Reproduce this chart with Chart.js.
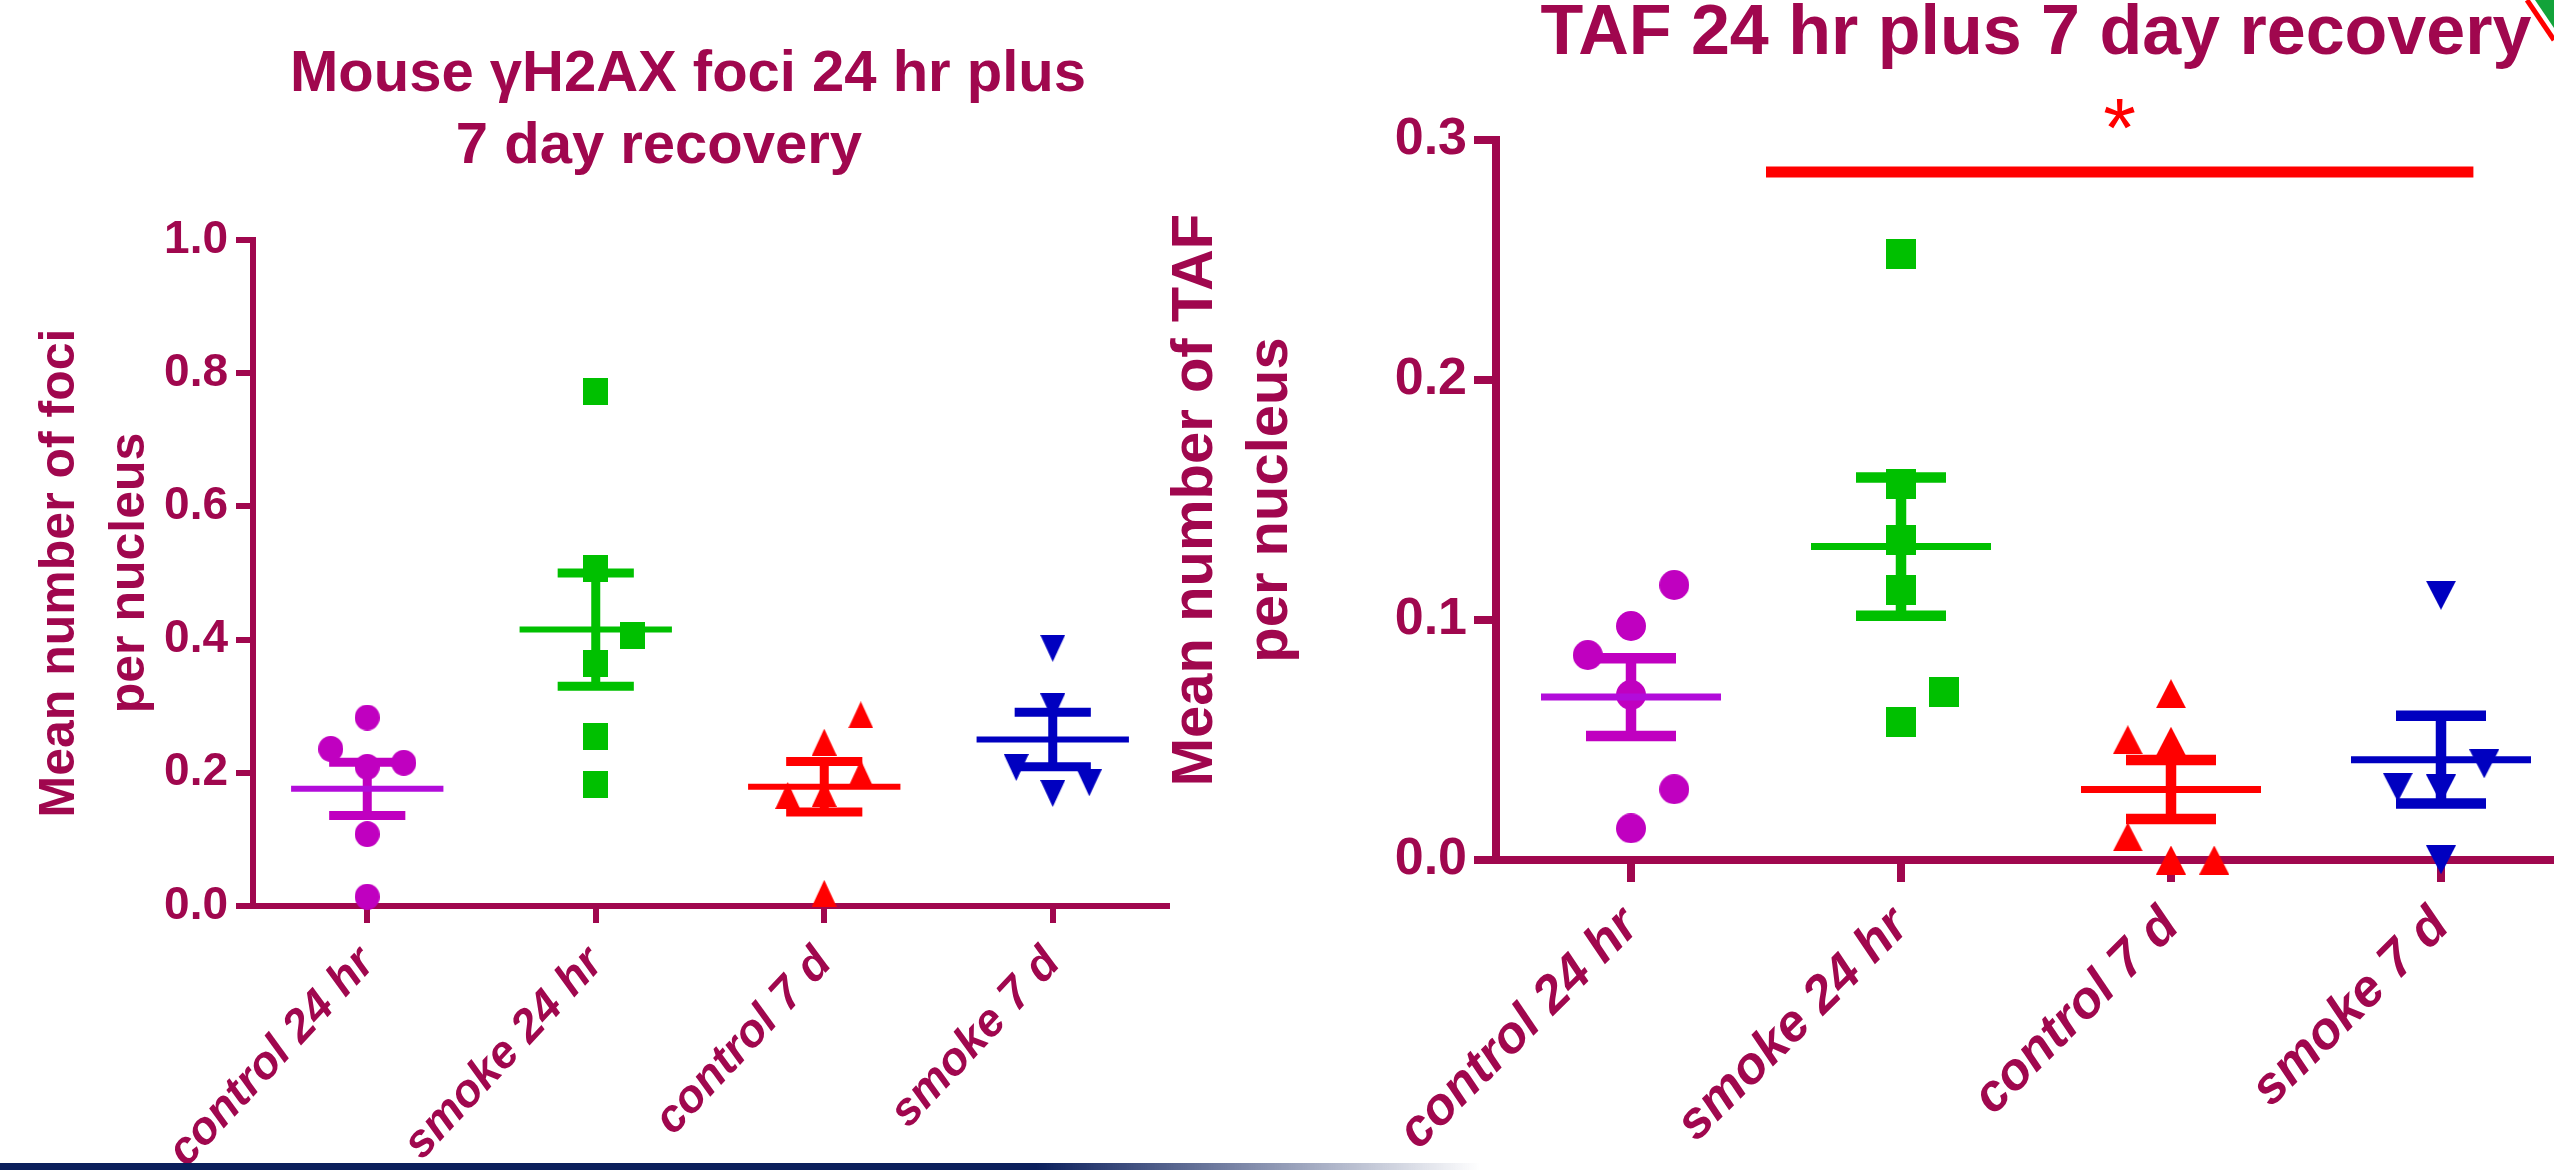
<!DOCTYPE html>
<html>
<head>
<meta charset="utf-8">
<script src="https://cdn.jsdelivr.net/npm/chart.js@4.4.1/dist/chart.umd.min.js"></script>
<style>
html,body{margin:0;padding:0;width:2554px;height:1170px;overflow:hidden;background:#ffffff;}
.ttl{position:absolute;font-family:"Liberation Sans",Arial,sans-serif;font-weight:bold;color:#A0074E;white-space:nowrap;text-align:center;width:1000px;}
canvas{position:absolute;top:0;}
#band{position:absolute;left:0;bottom:0;width:1480px;height:7px;background:linear-gradient(90deg,#0B1F5C 0%,#0B1F5C 70%,rgba(11,31,92,0) 100%);}
#deco{position:absolute;left:2518px;top:0;}
</style>
</head>
<body>
<div class="ttl" style="left:188px;top:35px;font-size:58px;line-height:72px;">Mouse γH2AX foci 24 hr plus</div>
<div class="ttl" style="left:159px;top:107px;font-size:58px;line-height:72px;">7 day recovery</div>
<div class="ttl" style="left:1536px;top:-5px;font-size:70px;line-height:70px;">TAF 24 hr plus 7 day recovery</div>
<canvas id="foci" width="1170" height="1170" style="left:0px;"></canvas>
<canvas id="taf" width="1421" height="1170" style="left:1155px;"></canvas>
<div id="band"></div>
<svg id="deco" width="36" height="50"><polygon points="17,0 36,0 36,28" fill="#12A33A"/><line x1="9" y1="0" x2="36" y2="40" stroke="#FF0000" stroke-width="5"/></svg>
<script>
// ---------- data ----------
const categories = ['control 24 hr', 'smoke 24 hr', 'control 7 d', 'smoke 7 d'];

// Left panel: Mouse γH2AX foci (mean number of foci per nucleus)
const fociTicks = [0, 0.2, 0.4, 0.6, 0.8, 1.0];
const fociControl24 = [0.283, 0.236, 0.209, 0.215, 0.108, 0.014];
const fociSmoke24   = [0.773, 0.507, 0.406, 0.364, 0.255, 0.182];
const fociControl7  = [0.287, 0.246, 0.199, 0.166, 0.169, 0.019];
const fociSmoke7    = [0.387, 0.299, 0.208, 0.185, 0.169];
const fociMean = [0.176, 0.415, 0.179, 0.250];
const fociSem  = [0.040, 0.085, 0.038, 0.041];
// scatter column slot of each point (-1 left, 0 centre, +1 right)
const fociControl24Slot = [0, -1, 0, 1, 0, 0];
const fociSmoke24Slot   = [0, 0, 1, 0, 0, 0];
const fociControl7Slot  = [1, 0, 1, -1, 0, 0];
const fociSmoke7Slot    = [0, 0, -1, 1, 0];

// Right panel: TAF (mean number of TAF per nucleus)
const tafTicks = [0, 0.1, 0.2, 0.3];
const tafControl24 = [0.1146, 0.0975, 0.0854, 0.0688, 0.0295, 0.0132];
const tafSmoke24   = [0.2527, 0.1567, 0.1335, 0.1127, 0.0701, 0.0573];
const tafControl7  = [0.0693, 0.0501, 0.0495, 0.0096, 0.0, 0.0];
const tafSmoke7    = [0.1103, 0.0401, 0.0303, 0.0296, 0.0001];
const tafMean = [0.0679, 0.1306, 0.0294, 0.0418];
const tafSem  = [0.0162, 0.0288, 0.0123, 0.0183];
const tafControl24Slot = [1, 0, -1, 0, 1, 0];
const tafSmoke24Slot   = [0, 0, 0, 0, 1, 0];
const tafControl7Slot  = [0, -1, 0, -1, 0, 1];
const tafSmoke7Slot    = [0, 1, -1, 0, 0];

// significance bar (smoke 24 hr vs the others)
const sigFrom = 0.5;
const sigTo = 3.12;
const sigY = 0.2867;
const sigMark = '*';

// ---------- styling ----------
const AXIS = '#A0074E';
const FONT = "'Liberation Sans', Arial, sans-serif";
const groupColors = ['#C000C0', '#00C000', '#FF0000', '#0000C0'];
const meanColors  = ['#B20CDA', '#00C000', '#FF0000', '#0000C0'];
const shapes = ['circle', 'square', 'up', 'down'];
const JITTER = 0.16, MEAN_HALF = 1 / 3, CAP_HALF = 1 / 6;

function marker(shape, w, h, color) {
  const c = document.createElement('canvas');
  c.width = w; c.height = h;
  const x = c.getContext('2d');
  x.fillStyle = color;
  x.beginPath();
  if (shape === 'circle') x.ellipse(w / 2, h / 2, w / 2, h / 2, 0, 0, Math.PI * 2);
  else if (shape === 'square') x.rect(0, 0, w, h);
  else if (shape === 'up') { x.moveTo(w / 2, 0); x.lineTo(w, h); x.lineTo(0, h); x.closePath(); }
  else { x.moveTo(0, 0); x.lineTo(w, 0); x.lineTo(w / 2, h); x.closePath(); }
  x.fill();
  return c;
}

function buildDatasets(groups, slots, means, sems, st) {
  const ds = [];
  groups.forEach((vals, g) => {
    const m = means[g], s = sems[g];
    ds.push({
      type: 'line', order: 0, borderColor: meanColors[g], borderWidth: st.meanW,
      pointRadius: 0, fill: false, tension: 0,
      data: [{x: g - MEAN_HALF, y: m}, {x: g + MEAN_HALF, y: m}]
    });
    ds.push({
      type: 'line', order: 1, borderColor: groupColors[g], borderWidth: st.barW,
      pointRadius: 0, fill: false, tension: 0, spanGaps: false,
      data: [
        {x: g - CAP_HALF, y: m + s}, {x: g + CAP_HALF, y: m + s}, {x: g, y: null},
        {x: g, y: m + s}, {x: g, y: m - s}, {x: g, y: null},
        {x: g - CAP_HALF, y: m - s}, {x: g + CAP_HALF, y: m - s}
      ]
    });
    const sz = st.sizes[g];
    ds.push({
      type: 'scatter', order: 2, clip: false,
      pointStyle: marker(shapes[g], sz[0], sz[1], groupColors[g]),
      pointRadius: 15, pointHoverRadius: 15,
      data: vals.map((v, i) => ({x: g + slots[g][i] * JITTER, y: v}))
    });
  });
  return ds;
}

const sigStarPlugin = {
  id: 'sigStar',
  afterDatasetsDraw(chart, args, o) {
    if (!o || !o.text) return;
    const {ctx, scales: {x, y}} = chart;
    const px = x.getPixelForValue((o.from + o.to) / 2);
    const py = y.getPixelForValue(o.y) - o.lift;
    ctx.save();
    ctx.font = o.size + 'px ' + FONT;
    ctx.fillStyle = o.color;
    ctx.textAlign = 'center';
    ctx.textBaseline = 'alphabetic';
    const m = ctx.measureText(o.text);
    const mid = (m.actualBoundingBoxAscent - m.actualBoundingBoxDescent) / 2;
    ctx.fillText(o.text, px, py + mid);
    ctx.restore();
  }
};

function makeChart(id, p) {
  const datasets = buildDatasets(p.groups, p.slots, p.means, p.sems, p);
  if (p.sig) {
    datasets.push({
      type: 'line', order: 0, borderColor: '#FF0000', borderWidth: p.sigW,
      pointRadius: 0, fill: false,
      data: [{x: sigFrom, y: sigY}, {x: sigTo, y: sigY}]
    });
  }
  return new Chart(document.getElementById(id), {
    type: 'scatter',
    data: {datasets},
    plugins: p.sig ? [sigStarPlugin] : [],
    options: {
      responsive: false, animation: false, events: [],
      layout: {autoPadding: false, padding: {top: p.padTop, right: p.padRight, left: 0, bottom: 0}},
      plugins: {
        legend: {display: false}, tooltip: {enabled: false}, title: {display: false},
        sigStar: p.sig ? {text: sigMark, from: sigFrom, to: sigTo, y: sigY, lift: 58, size: 84, color: '#FF0000'} : {}
      },
      scales: {
        x: {
          type: 'linear', min: -0.5, max: 3.5,
          afterBuildTicks: s => { s.ticks = categories.map((c, i) => ({value: i})); },
          afterFit: s => { s.height = p.xHeight; },
          ticks: {
            callback: v => categories[v] !== undefined ? categories[v] : '',
            autoSkip: false, minRotation: p.rot, maxRotation: p.rot, padding: 14,
            color: AXIS, font: {family: FONT, size: p.xFont, weight: 'bold', style: 'italic'}
          },
          grid: {drawOnChartArea: false, drawTicks: true, tickLength: p.tick, lineWidth: p.axisW, color: AXIS},
          border: {display: true, color: AXIS, width: p.axisW}
        },
        y: {
          type: 'linear', min: p.yTicks[0], max: p.yTicks[p.yTicks.length - 1],
          afterBuildTicks: s => { s.ticks = p.yTicks.map(v => ({value: v})); },
          afterFit: s => { s.width = p.yWidth; },
          ticks: {
            callback: v => Number(v).toFixed(1), padding: p.yPad,
            color: AXIS, font: {family: FONT, size: p.yFont, weight: 'bold'}
          },
          grid: {drawOnChartArea: false, drawTicks: true, tickLength: p.tick, lineWidth: p.axisW, color: AXIS},
          border: {display: true, color: AXIS, width: p.axisW},
          title: {
            display: true, text: p.yTitle, color: AXIS,
            font: {family: FONT, size: p.yTitleFont, weight: 'bold', lineHeight: p.yTitleLH},
            padding: {top: p.yTitlePad, bottom: 0}
          }
        }
      }
    }
  });
}

makeChart('foci', {
  groups: [fociControl24, fociSmoke24, fociControl7, fociSmoke7],
  slots: [fociControl24Slot, fociSmoke24Slot, fociControl7Slot, fociSmoke7Slot],
  means: fociMean, sems: fociSem, yTicks: fociTicks,
  yTitle: ['Mean number of foci', 'per nucleus'],
  meanW: 6, barW: 9, axisW: 6, tick: 17,
  sizes: [[25, 26], [25, 27], [25, 27], [25, 27]],
  padTop: 240, padRight: 3, xHeight: 264, yWidth: 253,
  xFont: 46, yFont: 46, yPad: 8, rot: 47,
  yTitleFont: 50, yTitleLH: 1.4, yTitlePad: 25,
  sig: false
});

makeChart('taf', {
  groups: [tafControl24, tafSmoke24, tafControl7, tafSmoke7],
  slots: [tafControl24Slot, tafSmoke24Slot, tafControl7Slot, tafSmoke7Slot],
  means: tafMean, sems: tafSem, yTicks: tafTicks,
  yTitle: ['Mean number of TAF', 'per nucleus'],
  meanW: 7, barW: 10.5, axisW: 8, tick: 22,
  sizes: [[30, 30], [30, 30], [30, 29], [30, 29]],
  padTop: 140, padRight: 0, xHeight: 310, yWidth: 341,
  xFont: 52, yFont: 52, yPad: 7, rot: 45,
  yTitleFont: 58, yTitleLH: 1.3, yTitlePad: 3,
  sig: true, sigW: 11
});
</script>
</body>
</html>
